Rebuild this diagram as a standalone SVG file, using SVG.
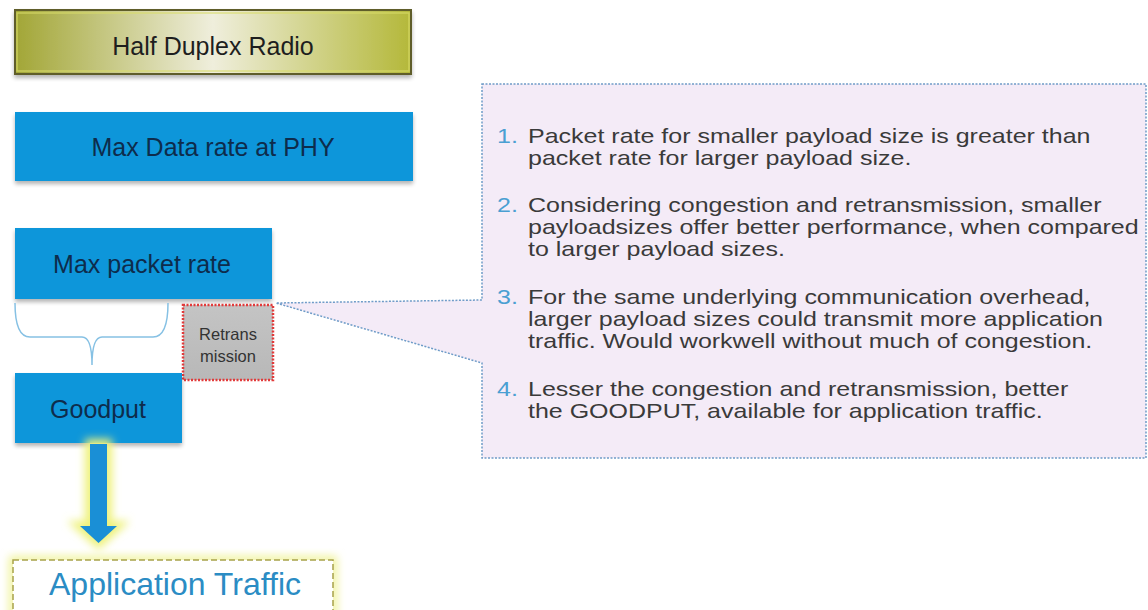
<svg xmlns="http://www.w3.org/2000/svg" width="1148" height="610" viewBox="0 0 1148 610">
<defs>
<style>
.t{font-family:"Liberation Sans",Arial,sans-serif}
.blue{fill:#0a96da}
.lbl{font-size:25px;fill:#0d2c4c;text-anchor:middle}
.li{font-size:21px;fill:#3a3a3a}
.num{font-size:21px;fill:#4a9fd2}
</style>
<linearGradient id="olive" x1="0" y1="0" x2="1" y2="0">
<stop offset="0" stop-color="#a2a636"/>
<stop offset="0.5" stop-color="#efeedc"/>
<stop offset="1" stop-color="#b4b83a"/>
</linearGradient>
<linearGradient id="gray" x1="0" y1="0" x2="0" y2="1">
<stop offset="0" stop-color="#c4c4c4"/>
<stop offset="1" stop-color="#b8b8b8"/>
</linearGradient>
<filter id="sh" x="-10%" y="-20%" width="120%" height="150%">
<feGaussianBlur in="SourceAlpha" stdDeviation="2"/>
<feOffset dy="3"/>
<feComponentTransfer><feFuncA type="linear" slope="0.3"/></feComponentTransfer>
<feMerge><feMergeNode/><feMergeNode in="SourceGraphic"/></feMerge>
</filter>
<filter id="glow" x="-50%" y="-20%" width="200%" height="140%">
<feGaussianBlur stdDeviation="4"/>
</filter>
</defs>
<rect width="1148" height="610" fill="#ffffff"/>

<g id="callout">
<path d="M482,84 H1146 V458 H482 V363 L276,303 L482,300 Z" fill="#f4ebf7" stroke="#6f9cc8" stroke-width="1.5" stroke-dasharray="2 1.5"/>
<g class="t" transform="translate(497 0) scale(1.19 1)">
<text class="num" x="0" y="143">1.</text>
<text class="num" x="0" y="212">2.</text>
<text class="num" x="0" y="304">3.</text>
<text class="num" x="0" y="396">4.</text>
</g>
<g class="t" transform="translate(528 0) scale(1.19 1)">
<text class="li" y="143"><tspan x="0">Packet rate for smaller payload size is greater than</tspan><tspan x="0" dy="22">packet rate for larger payload size.</tspan></text>
<text class="li" y="212"><tspan x="0">Considering congestion and retransmission, smaller</tspan><tspan x="0" dy="22">payloadsizes offer better performance, when compared</tspan><tspan x="0" dy="22">to larger payload sizes.</tspan></text>
<text class="li" y="304"><tspan x="0">For the same underlying communication overhead,</tspan><tspan x="0" dy="22">larger payload sizes could transmit more application</tspan><tspan x="0" dy="22">traffic. Would workwell without much of congestion.</tspan></text>
<text class="li" y="396"><tspan x="0">Lesser the congestion and retransmission, better</tspan><tspan x="0" dy="22">the GOODPUT, available for application traffic.</tspan></text>
</g>
</g>

<g id="half-duplex">
<rect x="15" y="10" width="396" height="64" fill="url(#olive)" stroke="#5e5d2c" stroke-width="2" filter="url(#sh)"/>
<rect x="17" y="13" width="392" height="58" fill="none" stroke="#d9dc6a" stroke-width="1.5" opacity="0.7"/>
<text class="t" x="213" y="55" font-size="25" fill="#1e1e1e" text-anchor="middle">Half Duplex Radio</text>
</g>

<g id="max-data-rate">
<rect class="blue" x="15" y="112" width="398" height="69" filter="url(#sh)"/>
<text class="t lbl" x="213" y="156">Max Data rate at PHY</text>
</g>

<g id="max-packet-rate">
<rect class="blue" x="15" y="228" width="257" height="71" filter="url(#sh)"/>
<text class="t lbl" x="142" y="273">Max packet rate</text>
</g>

<g id="retransmission">
<rect x="183" y="305" width="90" height="75" fill="url(#gray)" stroke="#e23a3a" stroke-width="2.5" stroke-dasharray="2 1.5"/>
<text class="t" x="228" y="340" font-size="16.5" fill="#333" text-anchor="middle">Retrans</text>
<text class="t" x="228" y="362" font-size="16.5" fill="#333" text-anchor="middle">mission</text>
</g>

<g id="goodput">
<rect class="blue" x="15" y="373" width="167" height="70" filter="url(#sh)"/>
<text class="t lbl" x="98" y="418">Goodput</text>
</g>

<g id="application-traffic">
<rect x="13" y="560" width="320" height="60" fill="none" stroke="#f0f39a" stroke-width="8" filter="url(#glow)"/>
<rect x="13" y="560" width="320" height="60" fill="#ffffff" stroke="#a8a24a" stroke-width="1.5" stroke-dasharray="6 3"/>
<text class="t" x="175" y="595" font-size="32" fill="#2b8cc4" text-anchor="middle">Application Traffic</text>
</g>

<g id="connectors">
<path d="M15,303 Q15,337 30,337 H82 Q92,337 92,365 Q92,337 102,337 H153 Q168,337 168,303" fill="none" stroke="#86c1e4" stroke-width="1.5"/>
<path d="M90,444 H107 V526 H117 L98.5,543 L80,526 H90 Z" fill="#eef27a" stroke="#eef27a" stroke-width="10" filter="url(#glow)"/>
<path d="M90,444 H107 V526 H117 L98.5,543 L80,526 H90 Z" fill="#1a8fd6"/>
</g>
</svg>
